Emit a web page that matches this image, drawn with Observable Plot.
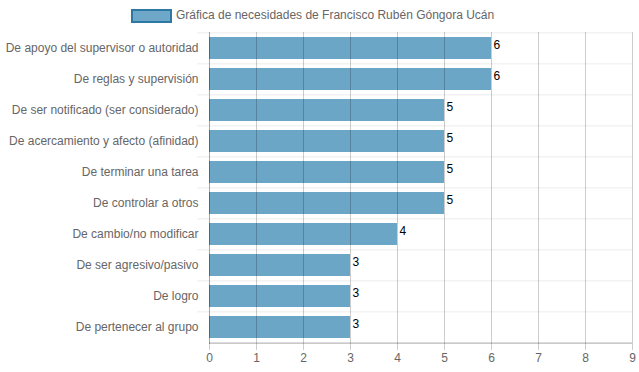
<!DOCTYPE html>
<html>
<head>
<meta charset="utf-8">
<script src="https://cdn.jsdelivr.net/npm/d3@7"></script>
<script src="https://cdn.jsdelivr.net/npm/@observablehq/plot@0.6"></script>
<style>
  html, body { margin: 0; padding: 0; background: #fff; }
  body { width: 639px; height: 372px; overflow: hidden; font-family: "Liberation Sans", Arial, Helvetica, sans-serif; }
  #legend { position: relative; height: 31px; }
  #legend .box { position: absolute; left: 131px; top: 9px; width: 37px; height: 10px; background: #6ea7c7; border: 2px solid #2e79a4; }
  #legend .txt { position: absolute; left: 176px; top: 7px; font-size: 12px; color: #666; line-height: 16px; white-space: nowrap; }
  #chart svg { display: block; }
</style>
</head>
<body>
<div id="legend"><div class="box"></div><div class="txt"></div></div>
<div id="chart"></div>
<script>
const title = "Gráfica de necesidades de Francisco Rubén Góngora Ucán";
const categories = [
  "De apoyo del supervisor o autoridad",
  "De reglas y supervisión",
  "De ser notificado (ser considerado)",
  "De acercamiento y afecto (afinidad)",
  "De terminar una tarea",
  "De controlar a otros",
  "De cambio/no modificar",
  "De ser agresivo/pasivo",
  "De logro",
  "De pertenecer al grupo"
];
const values = [6, 6, 5, 5, 5, 5, 4, 3, 3, 3];
const xTicks = [0, 1, 2, 3, 4, 5, 6, 7, 8, 9];

document.querySelector("#legend .txt").textContent = title;

const data = categories.map((c, i) => ({category: c, value: values[i]}));

const width = 639, height = 341, marginTop = 1, marginBottom = 28, marginLeft = 209, marginRight = 7;
const halfStep = (height - marginTop - marginBottom) / categories.length / 2;

const chart = Plot.plot({
  width, height, marginTop, marginBottom, marginLeft, marginRight,
  style: {fontFamily: "Liberation Sans, Arial, sans-serif", fontSize: "12px", color: "#666", background: "#fff"},
  x: {domain: [0, 9], ticks: xTicks},
  y: {domain: categories, paddingInner: 0.28, paddingOuter: 0.14, label: null},
  marks: [
    Plot.barX(data, {x: "value", y: "category", fill: "#6ca6c6"}),
    // horizontal grid lines between categories
    Plot.gridY({dy: -halfStep, stroke: "#000", strokeOpacity: 0.08}),
    Plot.axisY({text: null, tickSize: 12, dy: -halfStep, stroke: "#000", strokeOpacity: 0.08}),
    Plot.axisY({tickSize: 0, tickPadding: 11, fill: "#666", fontSize: 12, label: null}),
    // vertical grid lines
    Plot.gridX(xTicks.filter(d => d !== 0), {stroke: "#000", strokeOpacity: 0.2}),
    Plot.gridX([0], {stroke: "#000", strokeOpacity: 0.35}),
    Plot.axisX({ticks: xTicks, tickSize: 6, tickPadding: 3, fill: "#666", fontSize: 12, label: null, stroke: "#000", strokeOpacity: 0.2}),
    Plot.ruleY([0], {y: () => categories[categories.length - 1], dy: halfStep, stroke: "#000", strokeOpacity: 0.35}),
    Plot.text(data, {x: "value", y: "category", text: d => String(d.value), textAnchor: "start", dx: 2, dy: -3, fill: "#000", fontSize: 12})
  ]
});
document.getElementById("chart").appendChild(chart);
</script>
</body>
</html>
